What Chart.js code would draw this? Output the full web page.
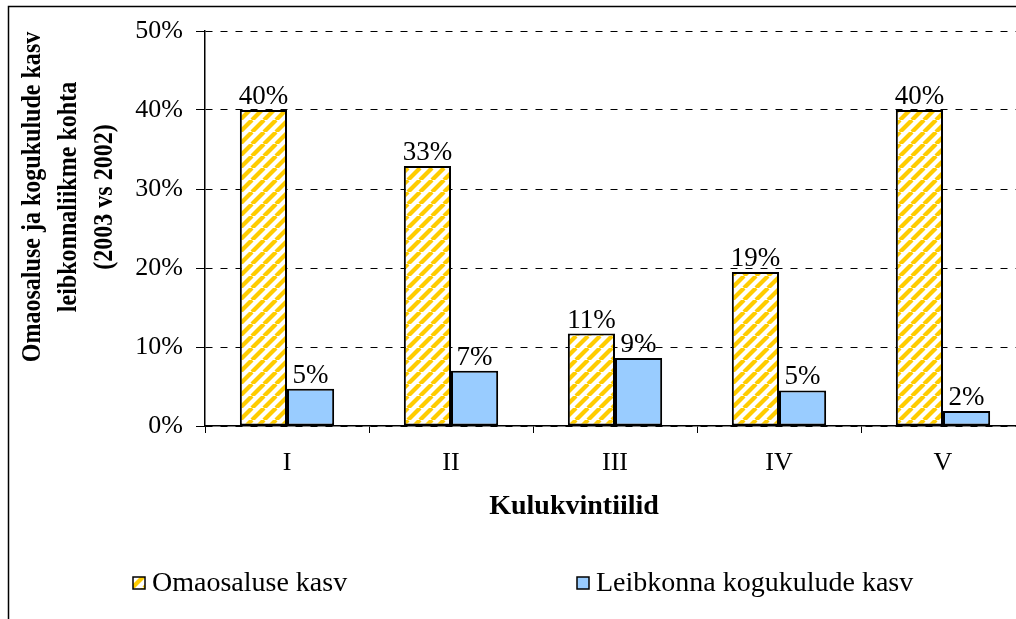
<!DOCTYPE html>
<html>
<head>
<meta charset="utf-8">
<script src="https://cdn.jsdelivr.net/npm/chart.js@4/dist/chart.umd.min.js"></script>
<style>
  html, body { margin: 0; padding: 0; background: #fff; overflow: hidden; }
  canvas { display: block; }
</style>
</head>
<body>
<canvas id="c" width="1030" height="619" style="width:1030px;height:619px"></canvas>
<script>
// ---- data ----
const categories = ['I', 'II', 'III', 'IV', 'V'];
const seriesNames = ['Omaosaluse kasv', 'Leibkonna kogukulude kasv'];
const omaosalus = [40, 32.9, 11.7, 19.5, 40];
const kogukulud = [4.7, 7.0, 8.6, 4.5, 1.9];
const omaosalusLabels = ['40%', '33%', '11%', '19%', '40%'];
const kogukuludLabels = ['5%', '7%', '9%', '5%', '2%'];
const yTicks = [0, 10, 20, 30, 40, 50];
const xTitle = 'Kulukvintiilid';
const yTitleLines = ['Omaosaluse ja kogukulude kasv', 'leibkonnaliikme kohta', '(2003 vs 2002)'];

const SERIF = '"Liberation Serif", "Times New Roman", serif';

function makeHatch() {
  const s = 12;
  const c = document.createElement('canvas');
  c.width = s; c.height = s;
  const g = c.getContext('2d');
  g.fillStyle = '#ffffff';
  g.fillRect(0, 0, s, s);
  g.strokeStyle = '#FFCC00';
  g.lineWidth = 4.2;
  for (const o of [-s, 0, s]) {
    g.beginPath();
    g.moveTo(o, s);
    g.lineTo(o + s, 0);
    g.stroke();
  }
  return g.createPattern(c, 'repeat');
}

const hatch = makeHatch();
const blue = '#99CCFF';
const labelSets = [omaosalusLabels, kogukuludLabels];

const extras = {
  id: 'extras',
  beforeDraw(chart) {
    const ctx = chart.ctx;
    ctx.save();
    ctx.fillStyle = '#fff';
    ctx.fillRect(0, 0, chart.width, chart.height);
    ctx.restore();
  },
  afterDatasetsDraw(chart) {
    const ctx = chart.ctx;
    ctx.save();
    ctx.font = '27px ' + SERIF;
    ctx.fillStyle = '#000';
    ctx.textAlign = 'center';
    ctx.textBaseline = 'alphabetic';
    chart.data.datasets.forEach((ds, di) => {
      const meta = chart.getDatasetMeta(di);
      meta.data.forEach((el, i) => {
        ctx.fillText(labelSets[di][i], el.x, el.y - 6);
      });
    });
    ctx.restore();
  },
  afterDraw(chart) {
    const ctx = chart.ctx;
    ctx.save();
    // outer frame
    ctx.strokeStyle = '#000';
    ctx.lineWidth = 1.5;
    ctx.strokeRect(8.5, 6.5, 1200, 1200);

    // y title (condensed along its length, like the reference)
    ctx.fillStyle = '#000';
    ctx.font = 'bold 27px ' + SERIF;
    ctx.textAlign = 'center';
    ctx.textBaseline = 'middle';
    const xs = [33, 69, 105];
    yTitleLines.forEach((t, i) => {
      ctx.save();
      ctx.translate(xs[i], 197);
      ctx.rotate(-Math.PI / 2);
      ctx.scale(0.89, 1);
      ctx.fillText(t, 0, 0);
      ctx.restore();
    });

    // x title
    ctx.font = 'bold 28px ' + SERIF;
    ctx.fillText(xTitle, 574, 507);

    // legend
    const items = [{ bx: 133, tx: 152 }, { bx: 577, tx: 596 }];
    chart.data.datasets.forEach((ds, di) => {
      const it = items[di];
      ctx.fillStyle = ds.backgroundColor;
      ctx.fillRect(it.bx, 577, 12, 12);
      ctx.strokeStyle = '#000';
      ctx.lineWidth = 1.5;
      ctx.strokeRect(it.bx, 577, 12, 12);
      ctx.fillStyle = '#000';
      ctx.font = '28px ' + SERIF;
      ctx.textAlign = 'left';
      ctx.textBaseline = 'middle';
      ctx.fillText(ds.label, it.tx, 584);
    });
    ctx.restore();
  }
};

new Chart(document.getElementById('c'), {
  type: 'bar',
  data: {
    labels: categories,
    datasets: [
      {
        label: seriesNames[0],
        data: omaosalus,
        backgroundColor: hatch,
        borderColor: '#000',
        borderWidth: 2,
        borderSkipped: false,
        categoryPercentage: 0.575,
        barPercentage: 1.0
      },
      {
        label: seriesNames[1],
        data: kogukulud,
        backgroundColor: blue,
        borderColor: '#000',
        borderWidth: 2,
        borderSkipped: false,
        categoryPercentage: 0.575,
        barPercentage: 1.0
      }
    ]
  },
  options: {
    responsive: false,
    animation: false,
    devicePixelRatio: 1,
    layout: { padding: { top: 31, right: 5, bottom: 0, left: 0 } },
    plugins: {
      legend: { display: false },
      tooltip: { enabled: false },
      title: { display: false }
    },
    scales: {
      x: {
        offset: true,
        grid: {
          offset: true,
          drawOnChartArea: false,
          drawTicks: true,
          tickLength: 7,
          color: '#000',
          lineWidth: 1
        },
        border: { display: true, color: '#000', width: 1.5 },
        ticks: {
          color: '#000',
          font: { family: SERIF, size: 26 },
          padding: 15
        },
        afterFit(scale) { scale.height = 193; }
      },
      y: {
        min: 0,
        max: 50,
        afterBuildTicks(scale) { scale.ticks = yTicks.map(v => ({ value: v })); },
        grid: {
          color: '#000',
          lineWidth: 1,
          tickBorderDash: [],
          tickLength: 9,
          drawTicks: true
        },
        border: { display: true, color: '#000', width: 1.5, dash: [7, 8] },
        ticks: {
          color: '#000',
          font: { family: SERIF, size: 26 },
          padding: 13,
          callback: v => v + '%'
        },
        afterFit(scale) { scale.width = 205; }
      }
    }
  },
  plugins: [extras]
});
</script>
</body>
</html>
